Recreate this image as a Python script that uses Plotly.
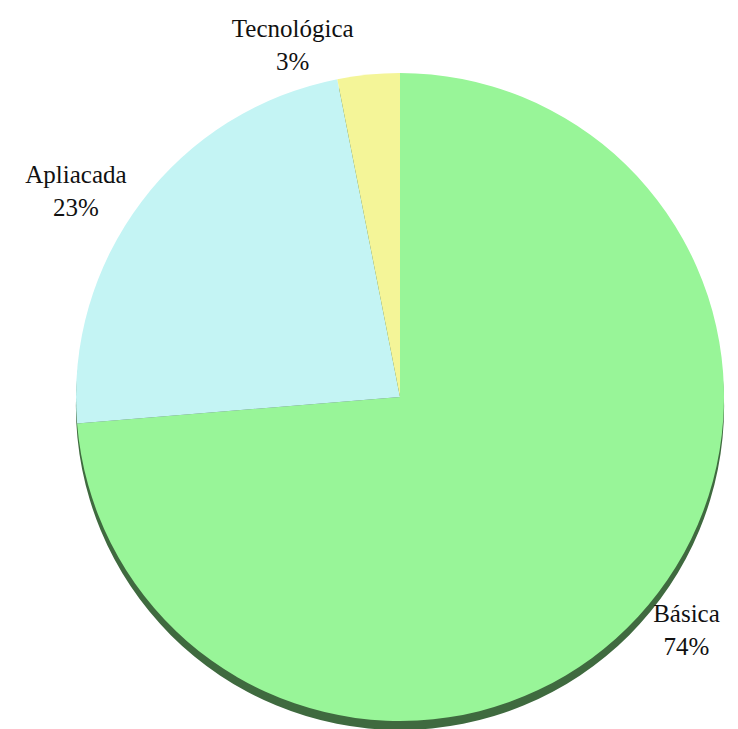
import plotly.graph_objects as go

labels = ['Básica', 'Apliacada', 'Tecnológica']
values = [73.7, 23.2, 3.1]
colors = ['#98F598', '#C4F4F4', '#F4F598']

W, H = 738, 729
cx, cy, r = 392, 389, 324
depth = 9  # grosor de la sombra "3D"


def dom(off=0):
    x = [(cx - r) / W, (cx + r) / W]
    yc = H - cy - off
    y = [(yc - r) / H, (yc + r) / H]
    return dict(x=x, y=y)


fig = go.Figure()

# sombra inferior (efecto 3D)
fig.add_trace(go.Pie(
    values=[1],
    marker=dict(colors=['#3F6A3F'], line=dict(width=0)),
    textinfo='none',
    hoverinfo='skip',
    sort=False,
    domain=dom(depth),
    showlegend=False,
))

fig.add_trace(go.Pie(
    labels=labels,
    values=values,
    marker=dict(colors=colors, line=dict(width=0)),
    sort=False,
    direction='clockwise',
    rotation=0,
    textposition='outside',
    texttemplate='%{label}<br>%{percent:.0%}',
    textfont=dict(family='Liberation Serif', size=25, color='#111111'),
    automargin=False,
    domain=dom(),
    showlegend=False,
))

fig.update_layout(
    width=W,
    height=H,
    margin=dict(l=0, r=0, t=0, b=0),
    paper_bgcolor='white',
    plot_bgcolor='white',
)

fig.write_html('out.html')
